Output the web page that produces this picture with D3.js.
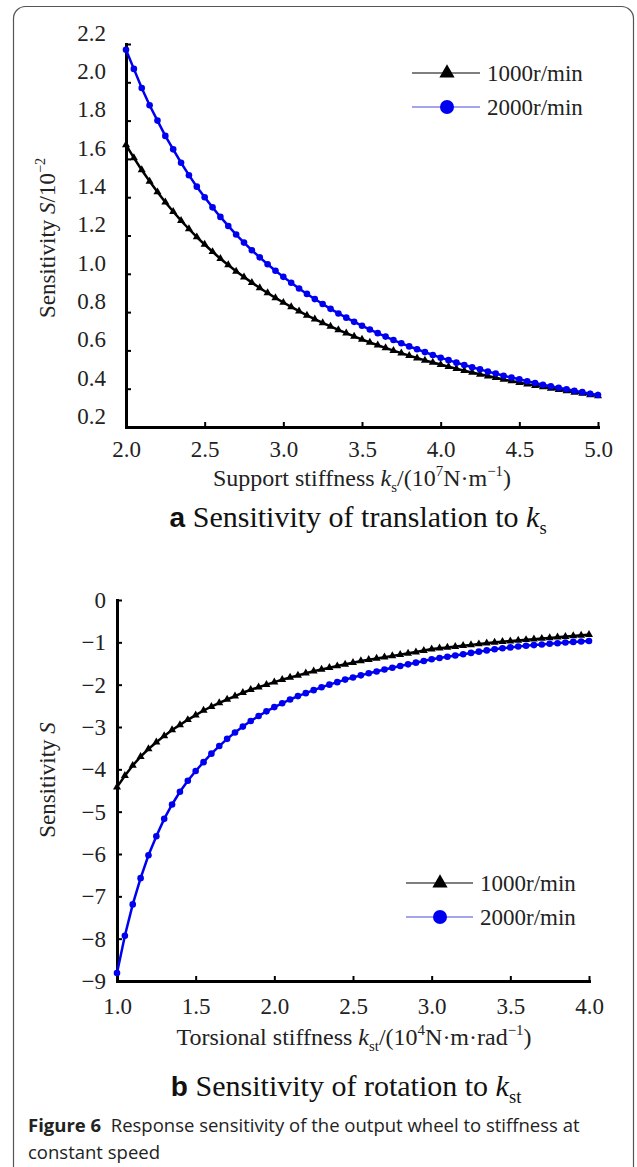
<!DOCTYPE html>
<html>
<head>
<meta charset="utf-8">
<script src="https://cdn.jsdelivr.net/npm/d3@7"></script>
<style>
  body { margin: 0; background: #fff; }
  svg { display: block; }
</style>
</head>
<body>
<script>
// ---- data ----

// panel a: support stiffness (10^7 N/m)
const ksA = [2.00,2.05,2.10,2.15,2.20,2.25,2.30,2.35,2.40,2.45,2.50,2.55,2.60,2.65,2.70,2.75,2.80,2.85,2.90,2.95,
  3.00,3.05,3.10,3.15,3.20,3.25,3.30,3.35,3.40,3.45,3.50,3.55,3.60,3.65,3.70,3.75,3.80,3.85,3.90,3.95,
  4.00,4.05,4.10,4.15,4.20,4.25,4.30,4.35,4.40,4.45,4.50,4.55,4.60,4.65,4.70,4.75,4.80,4.85,4.90,4.95,5.00];
const sA1000 = [1.673,1.605,1.542,1.483,1.427,1.374,1.325,1.278,1.234,1.192,1.153,1.115,1.079,1.046,1.013,0.983,0.954,0.926,0.900,0.874,
  0.850,0.827,0.805,0.783,0.763,0.744,0.725,0.707,0.690,0.673,0.657,0.642,0.627,0.613,0.599,0.586,0.573,0.560,0.548,0.537,
  0.526,0.515,0.505,0.494,0.485,0.475,0.466,0.457,0.448,0.440,0.432,0.424,0.416,0.409,0.402,0.395,0.388,0.381,0.375,0.368,0.362];
const sA2000 = [2.17,2.07,1.97,1.88,1.80,1.72,1.65,1.58,1.515,1.455,1.40,1.347,1.297,1.25,1.205,1.163,1.123,1.086,1.05,1.016,
  0.984,0.953,0.923,0.895,0.868,0.842,0.817,0.793,0.771,0.749,0.729,0.709,0.69,0.672,0.654,0.637,0.621,0.606,0.591,0.576,
  0.562,0.549,0.536,0.524,0.512,0.501,0.489,0.479,0.468,0.458,0.449,0.439,0.43,0.421,0.413,0.405,0.397,0.389,0.382,0.374,0.367];
const xTicksA = [2.0,2.5,3.0,3.5,4.0,4.5,5.0];
const yTicksA = [0.2,0.4,0.6,0.8,1.0,1.2,1.4,1.6,1.8,2.0,2.2];

// panel b: torsional stiffness (10^4 N·m/rad)
const kstB = [1.00,1.05,1.10,1.15,1.20,1.25,1.30,1.35,1.40,1.45,1.50,1.55,1.60,1.65,1.70,1.75,1.80,1.85,1.90,1.95,
  2.00,2.05,2.10,2.15,2.20,2.25,2.30,2.35,2.40,2.45,2.50,2.55,2.60,2.65,2.70,2.75,2.80,2.85,2.90,2.95,
  3.00,3.05,3.10,3.15,3.20,3.25,3.30,3.35,3.40,3.45,3.50,3.55,3.60,3.65,3.70,3.75,3.80,3.85,3.90,3.95,4.00];
const sB1000 = [-4.42,-4.15,-3.91,-3.70,-3.52,-3.36,-3.21,-3.07,-2.95,-2.83,-2.72,-2.61,-2.52,-2.43,-2.35,-2.27,-2.19,-2.12,-2.06,-2.00,
  -1.94,-1.88,-1.83,-1.78,-1.73,-1.68,-1.64,-1.60,-1.56,-1.52,-1.48,-1.44,-1.41,-1.38,-1.35,-1.32,-1.29,-1.26,-1.23,-1.195,
  -1.16,-1.14,-1.12,-1.10,-1.08,-1.06,-1.04,-1.02,-1.00,-0.985,-0.97,-0.955,-0.94,-0.925,-0.91,-0.895,-0.88,-0.865,-0.85,-0.835,-0.82];
const sB2000 = [-8.81,-7.93,-7.19,-6.57,-6.03,-5.58,-5.17,-4.83,-4.53,-4.27,-4.04,-3.83,-3.63,-3.45,-3.28,-3.13,-2.99,-2.86,-2.74,-2.63,
  -2.53,-2.44,-2.35,-2.27,-2.20,-2.13,-2.06,-2.00,-1.94,-1.88,-1.83,-1.78,-1.73,-1.69,-1.64,-1.60,-1.56,-1.52,-1.48,-1.44,
  -1.40,-1.37,-1.34,-1.31,-1.28,-1.25,-1.22,-1.19,-1.165,-1.14,-1.12,-1.10,-1.08,-1.065,-1.05,-1.035,-1.02,-1.005,-0.99,-0.98,-0.97];
const xTicksB = [1.0,1.5,2.0,2.5,3.0,3.5,4.0];
const yTicksB = [0,-1,-2,-3,-4,-5,-6,-7,-8,-9];

const seriesNames = ["1000r/min", "2000r/min"];
const seriesColors = ["#000000", "#0000f0"];

// ---- drawing ----
const SERIF = '"Liberation Serif","Times New Roman",serif';
const FS = 23;

const svg = d3.select("body").append("svg")
  .attr("width", 637)
  .attr("height", 1167);

// outer frame
svg.append("rect")
  .attr("x", 13.5).attr("y", 6.5)
  .attr("width", 620).attr("height", 1180)
  .attr("rx", 12)
  .attr("fill", "none")
  .attr("stroke", "#555")
  .attr("stroke-width", 1.2);

// text with italic / sub / sup parts
function rich(text, parts, size) {
  let shift = 0;
  parts.forEach(p => {
    const ts = text.append("tspan").text(p.t);
    let target = 0;
    if (p.sub) target = size * 0.24;
    if (p.sup) target = -size * 0.42;
    if (target !== shift) { ts.attr("dy", target - shift); shift = target; }
    if (p.sub || p.sup) ts.attr("font-size", size * 0.62);
    if (p.i) ts.attr("font-style", "italic");
  });
}

function drawPanel(o) {
  const x = d3.scaleLinear().domain(o.xDomain).range(o.xRange);
  const y = d3.scaleLinear().domain(o.yDomain).range(o.yRange);
  const g = svg.append("g");

  // x axis
  const gx = g.append("g")
    .attr("transform", `translate(0,${o.yRange[0]})`)
    .call(d3.axisBottom(x).tickValues(o.xTicks).tickFormat(d3.format(".1f"))
      .tickSizeInner(-5).tickSizeOuter(0).tickPadding(o.xPad));
  // y axis
  const gy = g.append("g")
    .attr("transform", `translate(${o.xRange[0]},0)`)
    .call(d3.axisLeft(y).tickValues(o.yTicks).tickFormat(o.yFmt)
      .tickSizeInner(-5).tickSizeOuter(0).tickPadding(o.yPad));
  gy.selectAll(".tick text").attr("y", o.yLabelShift);

  [gx, gy].forEach(a => {
    a.select(".domain").attr("stroke", "#000").attr("stroke-width", 3).attr("stroke-linecap", "square");
    a.selectAll(".tick line").attr("stroke", "#000").attr("stroke-width", 2);
    a.selectAll(".tick text").attr("font-family", SERIF).attr("font-size", FS).attr("fill", "#222");
  });

  // curves
  const line = d3.line().x((d, i) => x(o.xs[i])).y(d => y(d));
  o.series.forEach((s, k) => {
    g.append("path").datum(s)
      .attr("fill", "none")
      .attr("stroke", seriesColors[k])
      .attr("stroke-width", 2.5)
      .attr("d", line);
    if (k === 0) {
      g.selectAll(null).data(s).enter().append("path")
        .attr("d", d3.symbol(d3.symbolTriangle, 28))
        .attr("transform", (d, i) => `translate(${x(o.xs[i])},${y(d)})`)
        .attr("fill", seriesColors[k]);
    } else {
      g.selectAll(null).data(s).enter().append("circle")
        .attr("cx", (d, i) => x(o.xs[i]))
        .attr("cy", d => y(d))
        .attr("r", 3.3)
        .attr("fill", seriesColors[k]);
    }
  });

  // legend
  const L = o.legend;
  seriesNames.forEach((name, k) => {
    const ly = L.y[k];
    g.append("line")
      .attr("x1", L.x0).attr("x2", L.x1).attr("y1", ly).attr("y2", ly)
      .attr("stroke", k === 0 ? "#000" : "#4a4ad8").attr("stroke-width", 1.2);
    if (k === 0) {
      g.append("path").attr("d", d3.symbol(d3.symbolTriangle, 100))
        .attr("transform", `translate(${L.mx},${ly})`).attr("fill", "#000");
    } else {
      g.append("circle").attr("cx", L.mx).attr("cy", ly).attr("r", 7).attr("fill", "#0000f0");
    }
    g.append("text")
      .attr("x", L.tx).attr("y", ly).attr("dy", "0.35em")
      .attr("font-family", SERIF).attr("font-size", FS).attr("fill", "#222")
      .text(name);
  });

  // axis titles
  const yt = g.append("text")
    .attr("transform", `translate(${o.yTitle.x},${o.yTitle.y}) rotate(-90)`)
    .attr("text-anchor", "middle")
    .attr("font-family", SERIF).attr("font-size", FS).attr("fill", "#222");
  rich(yt, o.yTitle.parts, FS);

  const xt = g.append("text")
    .attr("x", o.xTitle.x).attr("y", o.xTitle.y)
    .attr("text-anchor", "middle")
    .attr("font-family", SERIF).attr("font-size", 24).attr("fill", "#222");
  rich(xt, o.xTitle.parts, 24);

  // panel subtitle
  const st = g.append("text")
    .attr("x", o.sub.x).attr("y", o.sub.y)
    .attr("text-anchor", "middle")
    .attr("font-family", SERIF).attr("font-size", 30).attr("fill", "#111");
  st.append("tspan").attr("font-family", '"Liberation Sans",Arial,sans-serif')
    .attr("font-weight", "bold").attr("font-size", 28).text(o.sub.letter + " ");
  rich(st, o.sub.parts, 30);
}

drawPanel({
  xs: ksA, series: [sA1000, sA2000],
  xDomain: [2, 5], xRange: [126, 598],
  yDomain: [0.2, 2.2], yRange: [427, 44],
  xTicks: xTicksA, yTicks: yTicksA, yFmt: d3.format(".1f"),
  xPad: 14, yPad: 20, yLabelShift: -11,
  legend: { x0: 412, x1: 480, mx: 447, tx: 487, y: [73, 107] },
  yTitle: { x: 55, y: 238, parts: [{ t: "Sensitivity " }, { t: "S", i: true }, { t: "/10" }, { t: "−2", sup: true }] },
  xTitle: { x: 362, y: 486, parts: [{ t: "Support stiffness " }, { t: "k", i: true }, { t: "s", sub: true },
    { t: "/(10" }, { t: "7", sup: true }, { t: "N·m" }, { t: "−1", sup: true }, { t: ")" }] },
  sub: { x: 358, y: 527, letter: "a", parts: [{ t: "Sensitivity of translation to " }, { t: "k", i: true }, { t: "s", sub: true }] }
});

drawPanel({
  xs: kstB, series: [sB1000, sB2000],
  xDomain: [1, 4], xRange: [117, 589],
  yDomain: [-9, 0], yRange: [981, 600],
  xTicks: xTicksB, yTicks: yTicksB, yFmt: d3.format("d"),
  xPad: 17, yPad: 11, yLabelShift: 0,
  legend: { x0: 406, x1: 473, mx: 440, tx: 480, y: [883, 917] },
  yTitle: { x: 55, y: 780, parts: [{ t: "Sensitivity " }, { t: "S", i: true }] },
  xTitle: { x: 354, y: 1045, parts: [{ t: "Torsional stiffness " }, { t: "k", i: true }, { t: "st", sub: true },
    { t: "/(10" }, { t: "4", sup: true }, { t: "N·m·rad" }, { t: "−1", sup: true }, { t: ")" }] },
  sub: { x: 346, y: 1096, letter: "b", parts: [{ t: "Sensitivity of rotation to " }, { t: "k", i: true }, { t: "st", sub: true }] }
});

// figure caption
const capFont = '"Open Sans","Noto Sans",sans-serif';
const cap = svg.append("text")
  .attr("x", 28).attr("y", 1132)
  .attr("font-family", capFont)
  .attr("font-size", 18.5).attr("fill", "#222");
cap.append("tspan").attr("font-weight", "bold").text("Figure 6");
cap.append("tspan").text("\u00a0 Response sensitivity of the output wheel to stiffness at");
svg.append("text")
  .attr("x", 28).attr("y", 1159)
  .attr("font-family", capFont)
  .attr("font-size", 18.5).attr("fill", "#222")
  .text("constant speed");
</script>
</body>
</html>
